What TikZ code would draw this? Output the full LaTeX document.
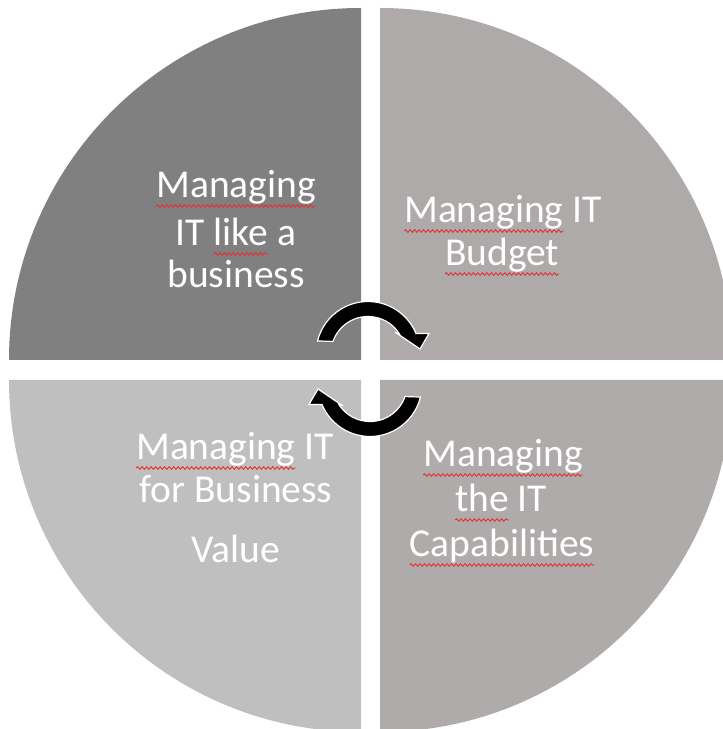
\documentclass[tikz,border=0pt]{standalone}
\usepackage{fontspec}
\usetikzlibrary{decorations.pathmorphing}
\newfontfamily\calfont{Carlito}
\definecolor{tlc}{RGB}{128,128,128}
\definecolor{trc}{RGB}{174,170,169}
\definecolor{blc}{RGB}{191,191,191}
\definecolor{brc}{RGB}{175,171,170}
\definecolor{sqred}{RGB}{228,50,50}
\newsavebox\sqbox
\newcommand\sq[1]{\sbox\sqbox{#1}\rlap{\tikz[overlay,baseline=0pt]\draw[sqred,line width=0.9pt,decorate,decoration={snake,amplitude=1.3pt,segment length=4.5pt}] (0pt,-8pt) -- (\wd\sqbox,-8pt);}\usebox\sqbox}
\begin{document}
\begin{tikzpicture}[x=1pt,y=1pt,
  lbl/.style={font=\calfont\fontsize{39.5}{45}\selectfont, text=white, inner sep=0pt, anchor=base},
  cyc/.style={fill=black, draw=white, line width=1.2pt, line join=miter}]
\useasboundingbox (0,0) rectangle (723,729);
\clip (0,0) rectangle (723,729);
% quadrants
\fill[tlc] (361,369) -- (9,369) arc[start angle=180,end angle=90,radius=352pt] -- cycle;
\fill[trc] (380,369) -- (380,721) arc[start angle=90,end angle=0,radius=352pt] -- cycle;
\fill[blc] (361,349) -- (9,349) arc[start angle=180,end angle=270,radius=352pt] -- cycle;
\fill[brc] (380,349) -- (732,349) arc[start angle=0,end angle=-90,radius=352pt] -- cycle;
% labels
\node[lbl] (tl1) at (236,531) {\sq{Managing}};
\node[lbl] (tl2) at (236,483) {IT \sq{like} a};
\node[lbl] (tl3) at (236,441) {business};
\node[lbl] (tr1) at (503,506) {\sq{Managing} IT};
\node[lbl] (tr2) at (502,463) {\sq{Budget}};
\node[lbl] (bl1) at (235,269) {\sq{Managing} IT};
\node[lbl] (bl2) at (236,226) {for Business};
\node[lbl] (bl3) at (236,166) {Value};
\node[lbl] (br1) at (503,262) {\sq{Managing}};
\node[lbl] (br2) at (501,217) {\sq{the} IT};
\node[lbl] (br3) at (502,172) {\sq{Capabilities}};
% cycle arrows
\tikzset{cycarrow/.pic={
  \path[cyc] (166:52) arc[start angle=166,end angle=22.6,radius=52pt] -- (61,20) -- (52,4.5) -- (28.5,20.5) -- (32.7:37) arc[start angle=32.7,end angle=161,radius=37pt] -- cycle;}}
\pic at (368,375.5) {cycarrow};
\pic[rotate=180] at (370,344.5) {cycarrow};
\end{tikzpicture}
\end{document}
